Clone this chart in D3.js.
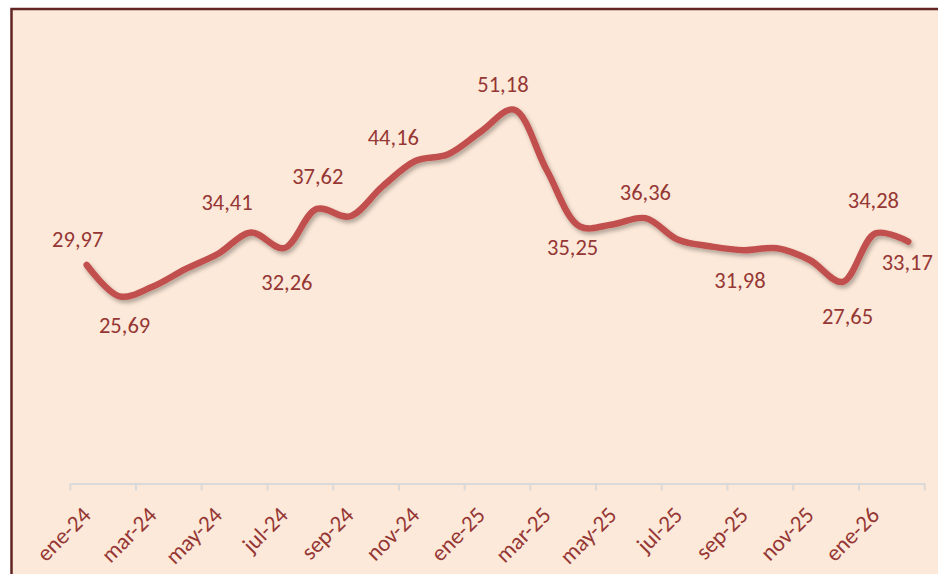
<!DOCTYPE html>
<html>
<head>
<meta charset="utf-8">
<script src="https://cdn.jsdelivr.net/npm/d3@7"></script>
<style>
  body { margin: 0; background: #fff; }
  svg { display: block; }
</style>
</head>
<body>
<script>
// months shown on the axis (one category per month)
var months = ["ene-24","feb-24","mar-24","abr-24","may-24","jun-24","jul-24","ago-24","sep-24","oct-24","nov-24","dic-24",
              "ene-25","feb-25","mar-25","abr-25","may-25","jun-25","jul-25","ago-25","sep-25","oct-25","nov-25","dic-25",
              "ene-26","feb-26"];
var values = [29.97, 25.69, 27.0, 29.4, 31.5, 34.41, 32.26, 37.62, 36.6, 40.7, 44.16, 45.1,
              48.2, 51.18, 42.9, 35.25, 35.5, 36.36, 33.4, 32.5, 31.98, 32.25, 30.65, 27.65,
              34.28, 33.17];
// which points carry a data label, with a small nudge [index, dx, dy]
var labelled = [[0,-9,-25],[1,5,29],[5,-24,-30],[6,3,34],[7,1,-32],[10,-22,-24],[13,-11,-25],
                [15,-7,21],[17,0,-26],[20,-4,30],[23,5,35],[24,-2,-33],[25,-1,21]];

var W = 938, H = 574;
var textColor = "#953735";
var font = "Calibri, Carlito, Lato, sans-serif";

var svg = d3.select("body").append("svg")
    .attr("width", W).attr("height", H);

var defs = svg.append("defs");
var f = defs.append("filter").attr("id", "shadow")
    .attr("x", "-10%").attr("y", "-10%").attr("width", "120%").attr("height", "130%");
f.append("feDropShadow")
    .attr("dx", 2).attr("dy", 3).attr("stdDeviation", 2)
    .attr("flood-color", "#000").attr("flood-opacity", 0.3);

// chart area
svg.append("rect")
    .attr("x", 11.5).attr("y", 9)
    .attr("width", W + 20).attr("height", H + 20)
    .attr("fill", "#FDE9D9")
    .attr("stroke", "#632523").attr("stroke-width", 2.5);

var x = d3.scaleBand().domain(months).range([70.3, 924.7]).padding(0);
var y = d3.scaleLinear().domain([0, 60]).range([484.5, 45]);

// axis line + ticks every two months
var axisY = 483.5;
var g = svg.append("g").attr("transform", "translate(0," + axisY + ")");
var xAxis = d3.axisBottom(x)
    .tickValues(months.filter(function(d, i) { return i % 2 === 0; }))
    .tickSize(0).tickFormat("");
g.call(xAxis);
g.select(".domain").attr("stroke", "#D9D9D9").attr("stroke-width", 2);

var bounds = months.filter(function(d, i) { return i % 2 === 0; }).map(function(d) { return x(d); });
bounds.push(x.range()[1]);
g.selectAll("line.tk").data(bounds).enter().append("line")
    .attr("class", "tk")
    .attr("x1", function(d) { return d; }).attr("x2", function(d) { return d; })
    .attr("y1", 0).attr("y2", 7)
    .attr("stroke", "#D9D9D9").attr("stroke-width", 2);

svg.selectAll("text.tl").data(months.filter(function(d, i) { return i % 2 === 0; }))
  .enter().append("text")
    .attr("class", "tl")
    .attr("transform", function(d) {
        return "translate(" + (x(d) + x.bandwidth() / 2 - 7) + "," + 504 + ") rotate(-45)";
    })
    .attr("text-anchor", "end")
    .attr("dominant-baseline", "hanging")
    .style("font-family", font)
    .style("font-size", "23px")
    .attr("fill", textColor)
    .text(function(d) { return d; });

// smoothed line
var line = d3.line()
    .x(function(d, i) { return x(months[i]) + x.bandwidth() / 2; })
    .y(function(d) { return y(d); })
    .curve(d3.curveCatmullRom.alpha(0.5));

svg.append("path")
    .datum(values)
    .attr("d", line)
    .attr("fill", "none")
    .attr("stroke", "#C0504D")
    .attr("stroke-width", 6.5)
    .attr("stroke-linecap", "round")
    .attr("stroke-linejoin", "round")
    .attr("filter", "url(#shadow)");

// data labels
svg.selectAll("text.dl").data(labelled).enter().append("text")
    .attr("class", "dl")
    .attr("x", function(d) { return x(months[d[0]]) + x.bandwidth() / 2 + d[1]; })
    .attr("y", function(d) { return y(values[d[0]]) + d[2]; })
    .attr("text-anchor", "middle")
    .attr("dominant-baseline", "central")
    .style("font-family", font)
    .style("font-size", "22.5px")
    .attr("fill", textColor)
    .text(function(d) { return d3.format(".2f")(values[d[0]]).replace(".", ","); });
</script>
</body>
</html>
